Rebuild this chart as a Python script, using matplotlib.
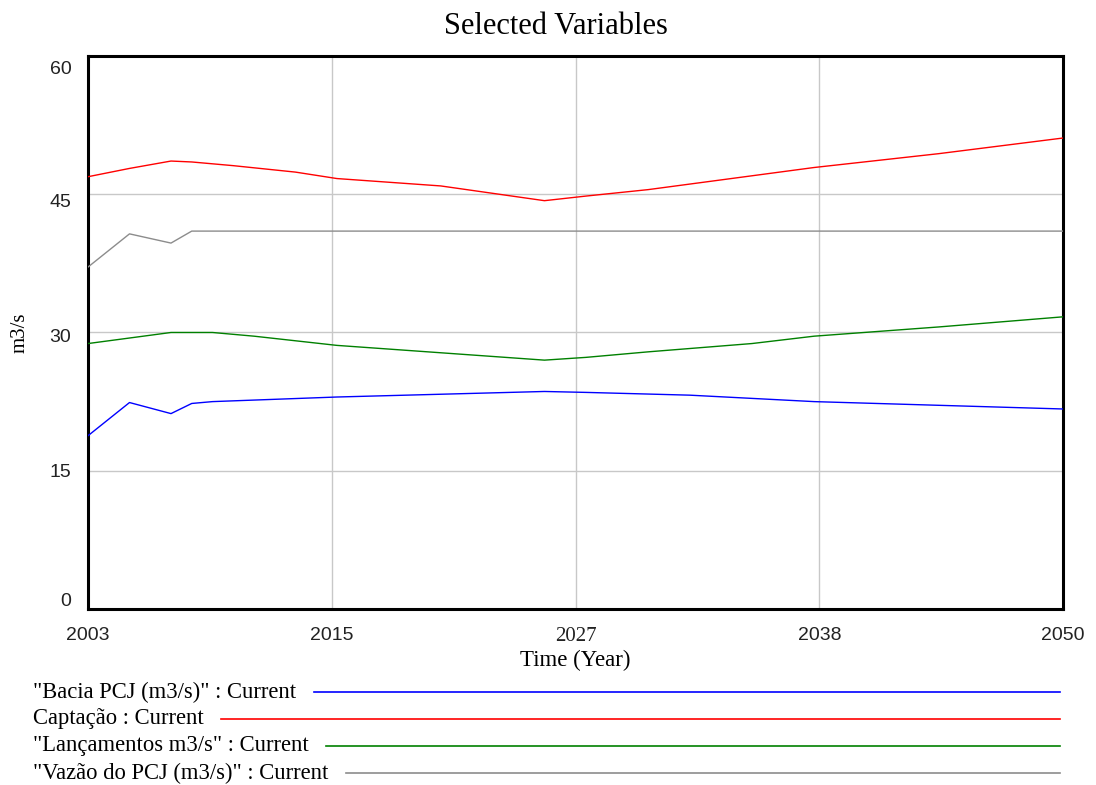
import numpy as np
import matplotlib
matplotlib.use('Agg')
import matplotlib.pyplot as plt
import matplotlib.transforms as mtransforms
from matplotlib.lines import Line2D

# values (m3/s)
bacia_years = [2003, 2005, 2007, 2008, 2009, 2015, 2020, 2025, 2027, 2032, 2038, 2044, 2050]
bacia = [18.8, 22.4, 21.2, 22.3, 22.5, 23.0, 23.3, 23.6, 23.5, 23.2, 22.5, 22.1, 21.7]

captacao_years = [2003, 2005, 2007, 2008, 2010, 2013, 2015, 2020, 2025, 2027, 2030, 2035, 2038, 2044, 2050]
captacao = [46.9, 47.8, 48.6, 48.5, 48.1, 47.4, 46.7, 45.9, 44.3, 44.8, 45.5, 47.0, 47.9, 49.4, 51.1]

lanc_years = [2003, 2005, 2007, 2009, 2011, 2015, 2020, 2025, 2027, 2030, 2035, 2038, 2044, 2050]
lanc = [28.8, 29.4, 30.0, 30.0, 29.6, 28.6, 27.8, 27.0, 27.3, 27.9, 28.8, 29.6, 30.6, 31.7]

vazao_years = [2003, 2005, 2007, 2008, 2050]
vazao = [37.1, 40.7, 39.7, 41.0, 41.0]

series_names = ['"Bacia PCJ (m3/s)" : Current', 'Captação : Current',
                '"Lançamentos m3/s" : Current', '"Vazão do PCJ (m3/s)" : Current']
colors = ['#0000ff', '#ff0000', '#008000', '#8c8c8c']

x_ticks = np.linspace(2003, 2050, 5)
x_labels = ['2003', '2015', '2027', '2038', '2050']
y_ticks = [0, 15, 30, 45, 60]

serif = 'Liberation Serif'
sans = 'Liberation Sans'

fig = plt.figure(figsize=(10.96, 7.85), dpi=100)
ax = fig.add_axes([0.0803, 0.2242, 0.8897, 0.7045])

all_x = [bacia_years, captacao_years, lanc_years, vazao_years]
all_y = [bacia, captacao, lanc, vazao]
for xs, ys, c in zip(all_x, all_y, colors):
    ax.plot(xs, ys, color=c, lw=1.0, zorder=3)

ax.set_xlim(2003, 2050)
ax.set_ylim(0, 60)
ax.set_xticks(x_ticks)
ax.set_xticklabels(x_labels)
ax.set_yticks(y_ticks)
ax.grid(True, color='#c8c8c8', lw=1.0)
ax.tick_params(length=0, labelsize=14, pad=12)
ax.tick_params(axis='x', pad=13)
for lab in ax.get_xticklabels() + ax.get_yticklabels():
    lab.set_family(sans)
    lab.set_color('#222222')
ax.get_xticklabels()[2].set_family(serif)
ax.get_xticklabels()[2].set_fontsize(15)

# vensim spreads the y labels evenly inside the frame, nudge them (pixels)
y_nudge = [10, 0, -3, -6, -12]
for lab, dy in zip(ax.get_yticklabels(), y_nudge):
    lab.set_transform(lab.get_transform() +
                      mtransforms.ScaledTranslation(0, dy / 100, fig.dpi_scale_trans))

for sp in ax.spines.values():
    sp.set_linewidth(2.2)
    sp.set_color('black')

# title is centred on the window, not on the frame
fig.text(0.507, 0.966, 'Selected Variables', family=serif, fontsize=22,
         ha='center', va='center')
ax.set_xlabel('Time (Year)', family=serif, fontsize=16.5, labelpad=3)
ax.set_ylabel('m3/s', family=serif, fontsize=15, labelpad=14)

# Vensim style legend below the plot
leg_y = [0.1185, 0.0841, 0.0497, 0.0153]
fig.canvas.draw()
renderer = fig.canvas.get_renderer()
for name, c, yy in zip(series_names, colors, leg_y):
    t = fig.text(0.030, yy, name, family=serif, fontsize=16.3, va='center', ha='left')
    bb = t.get_window_extent(renderer=renderer).transformed(fig.transFigure.inverted())
    fig.add_artist(Line2D([bb.x1 + 0.016, 0.967], [yy, yy], color=c, lw=1.2,
                          transform=fig.transFigure))

fig.savefig('out.png', dpi=100)
